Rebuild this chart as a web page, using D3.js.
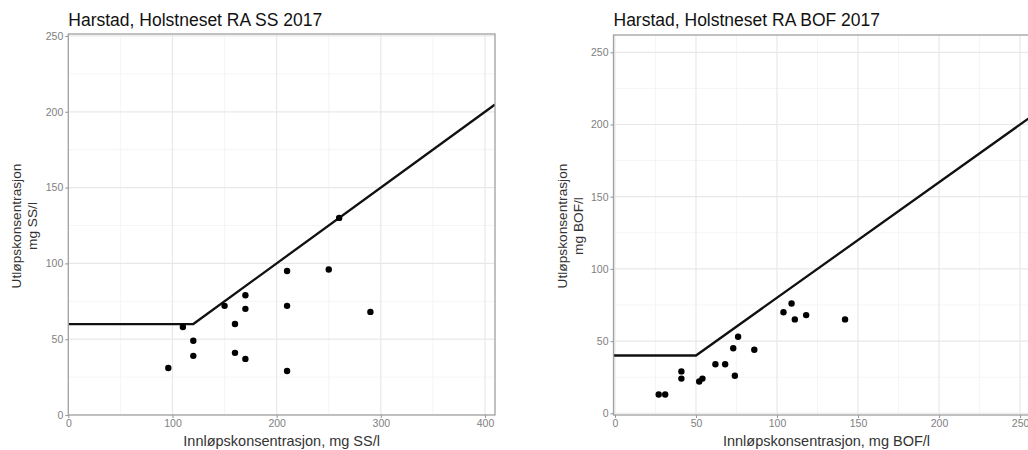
<!DOCTYPE html>
<html>
<head>
<meta charset="utf-8">
<script src="https://cdn.jsdelivr.net/npm/d3@7"></script>
<style>
  body { margin: 0; background: #fff; }
  svg { display: block; font-family: "Liberation Sans", Arial, sans-serif; }
</style>
</head>
<body>
<svg id="chart" width="1028" height="450"></svg>
<script>
// ---- Data ----
const ssTitle = "Harstad, Holstneset RA SS 2017";
const ssInlet = [96, 110, 120, 120, 150, 160, 160, 170, 170, 170, 210, 210, 210, 250, 260, 290];
const ssOutlet = [31, 58, 49, 39, 72, 60, 41, 79, 70, 37, 95, 72, 29, 96, 130, 68];
const ssLimitMin = 60;      // minimum outlet requirement
const ssLimitFrac = 0.5;    // outlet = 50 % of inlet
const ssXTicks = [0, 100, 200, 300, 400];
const ssYTicks = [0, 50, 100, 150, 200, 250];

const bofTitle = "Harstad, Holstneset RA BOF 2017";
const bofInlet = [27, 31, 41, 41, 52, 54, 62, 68, 73, 74, 76, 86, 104, 109, 111, 118, 142];
const bofOutlet = [13, 13, 29, 24, 22, 24, 34, 34, 45, 26, 53, 44, 70, 76, 65, 68, 65];
const bofLimitMin = 40;
const bofLimitFrac = 0.8;
const bofXTicks = [0, 50, 100, 150, 200, 250];
const bofYTicks = [0, 50, 100, 150, 200, 250];

const svg = d3.select("#chart");

function panel(cfg) {
  const x = d3.scaleLinear().domain(cfg.xDomain).range(cfg.xRange);
  const y = d3.scaleLinear().domain(cfg.yDomain).range(cfg.yRange);
  const g = svg.append("g");
  const [x0, x1] = cfg.xRange, [y0, y1] = cfg.yRange; // y0 bottom, y1 top

  const cid = "clip" + cfg.id;
  g.append("clipPath").attr("id", cid).append("rect")
    .attr("x", x0).attr("y", y1).attr("width", x1 - x0).attr("height", y0 - y1);

  // minor grid (midway between major ticks)
  const xStep = cfg.xTicks[1] - cfg.xTicks[0];
  const yStep = cfg.yTicks[1] - cfg.yTicks[0];
  const xMinor = cfg.xTicks.map(t => t + xStep / 2);
  const yMinor = cfg.yTicks.map(t => t + yStep / 2);
  const grid = g.append("g").attr("clip-path", `url(#${cid})`);
  grid.selectAll(".xm").data(xMinor).join("line")
    .attr("x1", d => x(d)).attr("x2", d => x(d)).attr("y1", y1).attr("y2", y0)
    .attr("stroke", "#f3f3f3").attr("stroke-width", 0.8);
  grid.selectAll(".ym").data(yMinor).join("line")
    .attr("y1", d => y(d)).attr("y2", d => y(d)).attr("x1", x0).attr("x2", x1)
    .attr("stroke", "#f3f3f3").attr("stroke-width", 0.8);
  grid.selectAll(".xM").data(cfg.xTicks).join("line")
    .attr("x1", d => x(d)).attr("x2", d => x(d)).attr("y1", y1).attr("y2", y0)
    .attr("stroke", "#e8e8e8").attr("stroke-width", 1.2);
  grid.selectAll(".yM").data(cfg.yTicks).join("line")
    .attr("y1", d => y(d)).attr("y2", d => y(d)).attr("x1", x0).attr("x2", x1)
    .attr("stroke", "#e8e8e8").attr("stroke-width", 1.2);

  // limit line: max(minimum, fraction * inlet)
  const xmax = cfg.xDomain[1];
  const knee = cfg.limMin / cfg.limFrac;
  const limPts = [[cfg.xDomain[0], cfg.limMin], [knee, cfg.limMin], [xmax, xmax * cfg.limFrac]];
  g.append("path").attr("clip-path", `url(#${cid})`)
    .datum(limPts)
    .attr("d", d3.line().x(d => x(d[0])).y(d => y(d[1])))
    .attr("fill", "none").attr("stroke", "#111").attr("stroke-width", 2.3);

  // points
  g.append("g").selectAll("circle").data(cfg.inlet.map((v, i) => [v, cfg.outlet[i]]))
    .join("circle")
    .attr("cx", d => x(d[0])).attr("cy", d => y(d[1])).attr("r", 3.2)
    .attr("fill", "#000");

  // border
  g.append("rect").attr("x", x0).attr("y", y1).attr("width", x1 - x0).attr("height", y0 - y1)
    .attr("fill", "none").attr("stroke", "#a0a0a0").attr("stroke-width", 1.3);

  // axes
  const xa = g.append("g").attr("transform", `translate(0,${y0})`)
    .call(d3.axisBottom(x).tickValues(cfg.xTicks).tickSize(3).tickPadding(2));
  const ya = g.append("g").attr("transform", `translate(${x0},0)`)
    .call(d3.axisLeft(y).tickValues(cfg.yTicks).tickSize(3).tickPadding(2));
  [xa, ya].forEach(a => {
    a.select(".domain").remove();
    a.selectAll(".tick line").attr("stroke", "#9a9a9a").attr("stroke-width", 1.1);
    a.selectAll(".tick text").attr("fill", "#808080").attr("font-size", 10.5)
      .attr("font-family", "Liberation Sans, Arial, sans-serif");
  });

  // titles
  svg.append("text").attr("x", x0).attr("y", 26).text(cfg.title)
    .attr("font-size", 17.5).attr("fill", "#111");
  svg.append("text").attr("x", (x0 + x1) / 2).attr("y", 446).attr("text-anchor", "middle")
    .text(cfg.xLabel).attr("font-size", 14.5).attr("fill", "#333");
  const yl = svg.append("text").attr("text-anchor", "middle")
    .attr("transform", `translate(${cfg.yLabelX},226) rotate(-90)`)
    .attr("font-size", 13.7).attr("fill", "#333");
  yl.append("tspan").attr("x", 0).attr("dy", 0).text("Utløpskonsentrasjon");
  yl.append("tspan").attr("x", 0).attr("dy", 16).text(cfg.yUnit);
}

panel({
  id: "ss", title: ssTitle,
  xDomain: [0, 409.6], xRange: [68.3, 495],
  yDomain: [0, 251.3], yRange: [415, 34],
  xTicks: ssXTicks, yTicks: ssYTicks,
  inlet: ssInlet, outlet: ssOutlet, limMin: ssLimitMin, limFrac: ssLimitFrac,
  xLabel: "Innløpskonsentrasjon, mg SS/l", yLabelX: 21, yUnit: "mg SS/l"
});
panel({
  id: "bof", title: bofTitle,
  xDomain: [-0.9, 262], xRange: [613.5, 1039.5],
  yDomain: [-1.2, 262], yRange: [415, 35],
  xTicks: bofXTicks, yTicks: bofYTicks,
  inlet: bofInlet, outlet: bofOutlet, limMin: bofLimitMin, limFrac: bofLimitFrac,
  xLabel: "Innløpskonsentrasjon, mg BOF/l", yLabelX: 566.5, yUnit: "mg BOF/l"
});
</script>
</body>
</html>
